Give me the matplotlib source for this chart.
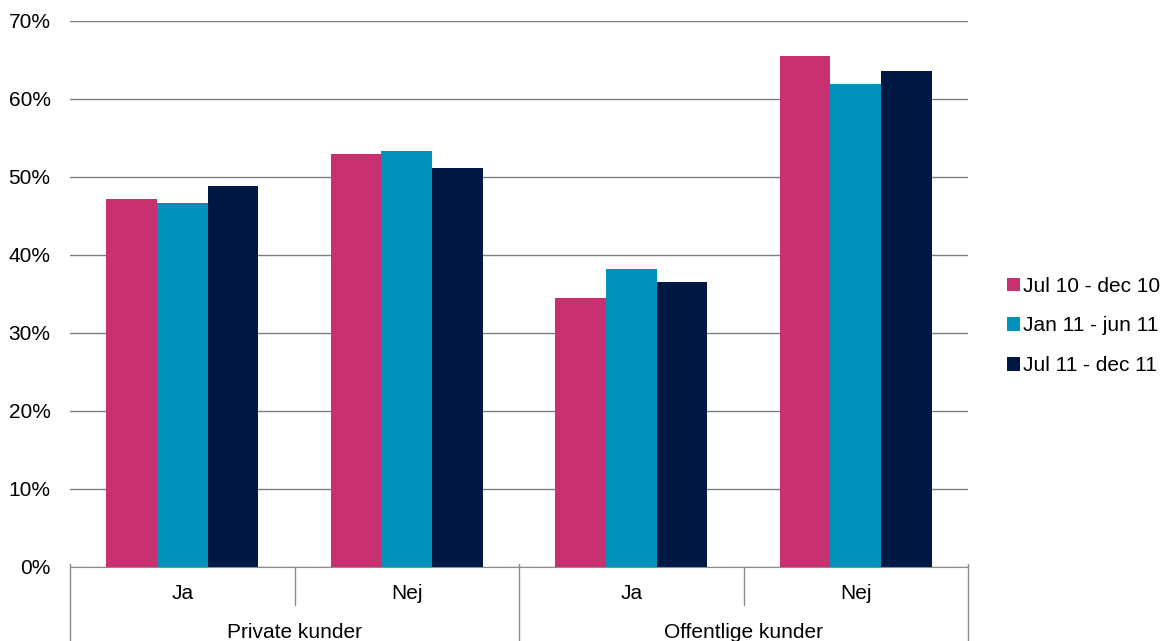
import numpy as np
import matplotlib.pyplot as plt
import matplotlib.transforms as mtransforms

# data
categories = ['Ja', 'Nej', 'Ja', 'Nej']
groups = ['Private kunder', 'Offentlige kunder']
series_names = ['Jul 10 - dec 10', 'Jan 11 - jun 11', 'Jul 11 - dec 11']
jul10 = [47.2, 52.9, 34.5, 65.5]
jan11 = [46.7, 53.3, 38.2, 61.9]
jul11 = [48.8, 51.2, 36.5, 63.6]
colors = ['#C8306F', '#0092BD', '#001944']

plt.rcParams['font.family'] = ['Liberation Sans', 'DejaVu Sans']
plt.rcParams['font.size'] = 15

fig = plt.figure(figsize=(11.65, 6.41), dpi=100)
ax = fig.add_axes([70/1165, (641-567)/641, (968-70)/1165, (567-21)/641])

x = np.arange(len(categories))
w = 0.225
for i, (vals, name) in enumerate(zip([jul10, jan11, jul11], series_names)):
    ax.bar(x + (i-1)*w, vals, w, color=colors[i], label=name, zorder=3)

ax.set_xlim(-0.5, 3.5)
ax.set_ylim(0, 70)
ax.set_yticks(np.arange(0, 71, 10))
ax.set_yticklabels([f'{v}%' for v in range(0, 71, 10)])
ax.yaxis.grid(True, color='#7f7f7f', linewidth=1, zorder=0)
ax.tick_params(axis='y', length=0, pad=14)
for s in ['top', 'right', 'left']:
    ax.spines[s].set_visible(False)
ax.spines['bottom'].set_color('#8c8c8c')
ax.spines['bottom'].set_zorder(4)

# two-level category axis
ax.set_xticks(x)
ax.set_xticklabels(categories)
ax.tick_params(axis='x', length=0, pad=12)
trans = mtransforms.blended_transform_factory(ax.transData, ax.transAxes)
y_short = -38/546
y_long = -80/546
for b in [0.5, 2.5]:
    ax.plot([b, b], [0, y_short], transform=trans, color='#8c8c8c', lw=1, clip_on=False)
for b in [-0.5, 1.5, 3.5]:
    ax.plot([b, b], [0.006, y_long], transform=trans, color='#8c8c8c', lw=1, clip_on=False)
for gi, g in enumerate(groups):
    ax.text(0.5 + 2*gi, -65/546, g, transform=trans, ha='center', va='center')

fig.legend(loc='center left', bbox_to_anchor=(1007/1165, (641-326)/641), frameon=False,
           borderpad=0, borderaxespad=0,
           handlelength=0.62, handleheight=0.62, handletextpad=0.15, labelspacing=1.0,
           fontsize=15)

fig.savefig('out.png', dpi=100)
